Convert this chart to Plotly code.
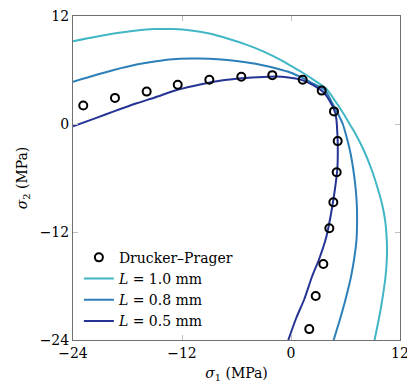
import plotly.graph_objects as go

# Drucker-Prager reference points (MPa)
dp_s1 = [-22.87, -19.38, -15.89, -12.47, -8.99, -5.47, -2.06, 1.29, 3.38, 4.73,
         5.14, 5.03, 4.66, 4.22, 3.56, 2.72, 2.01]
dp_s2 = [2.06, 2.90, 3.60, 4.37, 4.92, 5.25, 5.43, 4.92, 3.71, 1.40,
         -1.90, -5.36, -8.70, -11.59, -15.56, -19.12, -22.79]

# L = 1.0 mm
l10_s1 = [-24, -21.5, -19.5, -17, -15, -13, -11, -9, -7, -5, -3, -1, 0, 1.2, 2.5, 3.9,
          4.9, 5.75, 6.45, 7.05, 8.05, 8.85, 9.5, 10.05, 10.4, 10.55, 10.55, 10.4, 10.05, 9.7, 9.2]
l10_s2 = [9.2, 9.7, 10.05, 10.4, 10.55, 10.55, 10.4, 10.05, 9.5, 8.85, 8.05, 7.05, 6.45, 5.75, 4.9, 3.9,
          2.5, 1.2, 0, -1, -3, -5, -7, -9, -11, -13, -15, -17, -19.5, -21.5, -24]

# L = 0.8 mm
l08_s1 = [-24, -21.5, -19.5, -17, -15, -13, -11, -9, -7, -5, -3, -1, 0, 1.2, 2.5, 3.75,
          4.45, 5.15, 5.7, 6.0, 6.5, 6.85, 7.1, 7.25, 7.27, 7.2, 6.95, 6.6, 6.0, 5.45, 4.7]
l08_s2 = [4.7, 5.45, 6.0, 6.6, 6.95, 7.2, 7.27, 7.25, 7.1, 6.85, 6.5, 6.0, 5.7, 5.15, 4.45, 3.75,
          2.5, 1.2, 0, -1, -3, -5, -7, -9, -11, -13, -15, -17, -19.5, -21.5, -24]

# L = 0.5 mm
l05_s1 = [-24, -21.5, -19.5, -17, -15, -12.5, -10, -7.5, -5, -2.5, -1, 0.5, 1.3, 2.5, 3.55,
          4.3, 4.85, 5.0, 5.1, 5.15, 5.1, 4.8, 4.4, 3.9, 3.1, 2.3, 1.45, 0.6, -0.3]
l05_s2 = [-0.25, 0.65, 1.4, 2.3, 2.95, 3.8, 4.4, 4.85, 5.1, 5.25, 5.25, 5.05, 4.85, 4.3, 3.55,
          2.5, 1.3, 0.5, -1, -2.5, -5, -7.5, -10, -12.5, -15, -17, -19.5, -21.5, -24]

ticks = [-24, -12, 0, 12]
font = "DejaVu Serif"
fsize = 14

fig = go.Figure()

curves = [
    (l10_s1, l10_s2, '#41b6c4', '<i>L</i> = 1.0 mm', 2),
    (l08_s1, l08_s2, '#2c7fb8', '<i>L</i> = 0.8 mm', 3),
    (l05_s1, l05_s2, '#253494', '<i>L</i> = 0.5 mm', 4),
]
for xs, ys, color, name, rank in curves:
    fig.add_trace(go.Scatter(x=xs, y=ys, mode='lines', name=name, legendrank=rank,
                             line=dict(color=color, width=2, shape='spline', smoothing=0.7)))

fig.add_trace(go.Scatter(x=dp_s1, y=dp_s2, mode='markers', name='Drucker–Prager', legendrank=1,
                         marker=dict(symbol='circle-open', size=8, color='black',
                                     line=dict(width=2, color='black'))))

axis_style = dict(range=[-24, 12], tickvals=ticks, showgrid=False, zeroline=False,
                  showline=True, linecolor='#707070', linewidth=1, mirror='ticks',
                  ticks='inside', ticklen=5, tickcolor='#c0c0c0', tickwidth=1,
                  automargin=False, ticklabeloverflow='allow',
                  tickfont=dict(family=font, size=fsize, color='black'))

fig.update_xaxes(**axis_style, title=dict(text='<i>σ</i><sub>1</sub> (MPa)', standoff=8,
                                          font=dict(family=font, size=fsize, color='black')))
fig.update_yaxes(**axis_style, title=dict(text='<i>σ</i><sub>2</sub> (MPa)', standoff=8,
                                          font=dict(family=font, size=fsize, color='black')))

# page is shown with an 8px body offset, so margins are shifted accordingly
fig.update_layout(
    width=415, height=391,
    margin=dict(l=65, r=23, t=8, b=59),
    plot_bgcolor='white', paper_bgcolor='white',
    font=dict(family=font, size=fsize, color='black'),
    legend=dict(x=0.018, y=0.01, xanchor='left', yanchor='bottom',
                bgcolor='rgba(0,0,0,0)', font=dict(family=font, size=fsize),
                tracegroupgap=0, itemwidth=30),
)

fig.write_html("out.html")
